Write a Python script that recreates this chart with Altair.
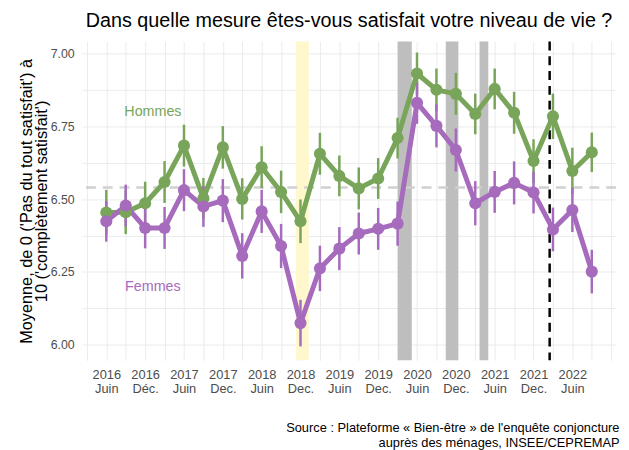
import altair as alt
import pandas as pd

# ---------------- data ----------------
# quarterly points, index 0 = June 2016 ... 25 = Sept 2022
hommes = [6.454, 6.455, 6.486, 6.559, 6.684, 6.503, 6.678, 6.501, 6.610, 6.525,
          6.424, 6.656, 6.580, 6.537, 6.571, 6.710, 6.932, 6.876, 6.862, 6.793,
          6.879, 6.797, 6.631, 6.785, 6.597, 6.661]
femmes = [6.424, 6.478, 6.401, 6.401, 6.531, 6.475, 6.495, 6.305, 6.458, 6.339,
          6.074, 6.262, 6.330, 6.382, 6.398, 6.416, 6.831, 6.752, 6.669, 6.486,
          6.525, 6.556, 6.523, 6.396, 6.463, 6.251]
err_h = [0.078, 0.075, 0.074, 0.072, 0.072, 0.070, 0.073, 0.071, 0.072, 0.073,
         0.075, 0.072, 0.070, 0.072, 0.070, 0.070, 0.072, 0.073, 0.072, 0.070,
         0.070, 0.072, 0.075, 0.078, 0.080, 0.068]
err_f = [0.070, 0.072, 0.070, 0.072, 0.072, 0.070, 0.074, 0.078, 0.074, 0.076,
         0.080, 0.078, 0.074, 0.072, 0.072, 0.076, 0.072, 0.074, 0.074, 0.076,
         0.072, 0.074, 0.072, 0.075, 0.076, 0.075]

tick_pos = [0, 2, 4, 6, 8, 10, 12, 14, 16, 18, 20, 22, 24]
tick_years = ["2016", "2016", "2017", "2017", "2018", "2018", "2019", "2019",
              "2020", "2020", "2021", "2021", "2022"]
tick_months = ["Juin", "Déc.", "Juin", "Dec.", "Juin", "Dec.", "Juin", "Dec.",
               "Juin", "Dec.", "Juin", "Dec.", "Juin"]

# events (in quarter-index units)
band_start = [9.76, 15.0, 17.48, 19.22]
band_end = [10.43, 15.73, 18.13, 19.67]
band_kind = ["Gilets jaunes", "Confinement 1", "Confinement 2", "Confinement 3"]
ukraine_x = [22.83]
moyenne = [6.54]

label_names = ["Hommes", "Femmes"]
label_x = [2.4, 2.4]
label_y = [6.80, 6.198]

GREEN = "#78a55a"
PURPLE = "#a66bbd"

# ---------------- frames ----------------
rows = []
for i, (v, e) in enumerate(zip(hommes, err_h)):
    rows.append({"t": i, "sexe": "Hommes", "v": v, "lo": v - e, "hi": v + e})
for i, (v, e) in enumerate(zip(femmes, err_f)):
    rows.append({"t": i, "sexe": "Femmes", "v": v, "lo": v - e, "hi": v + e})
df = pd.DataFrame(rows)

bands = pd.DataFrame({"x0": band_start, "x1": band_end, "kind": band_kind})
lab_df = pd.DataFrame({"name": label_names, "x": label_x, "y": label_y})


def ternary(labels):
    expr = ""
    for p, s in zip(tick_pos, labels):
        expr += "datum.value == %d ? '%s' : " % (p, s)
    return expr + "''"


year_expr = ternary(tick_years)
month_expr = ternary(tick_months)
y_label_expr = ("abs(datum.value * 4 - round(datum.value * 4)) < 0.001 ? "
                "format(datum.value, '.2f') : ''")

X_DOMAIN = [-1.25, 26.25]
Y_DOMAIN = [5.946, 7.042]

xscale = alt.Scale(domain=X_DOMAIN, nice=False, zero=False)
yscale = alt.Scale(domain=Y_DOMAIN, nice=False, zero=False)
color = alt.Color("sexe:N", scale=alt.Scale(domain=["Hommes", "Femmes"],
                                            range=[GREEN, PURPLE]), legend=None)

year_axis = alt.Axis(
    orient="bottom", values=list(range(-1, 27)), labelExpr=year_expr,
    ticks=False, tickSize=0, domain=False, labelPadding=8, labelFontSize=13,
    labelColor="#4d4d4d", labelFont="Liberation Sans", labelAngle=0,
    labelOverlap=False, labelFlush=False, labelBound=False,
    grid=True, gridColor="#ebebeb", gridWidth=1, title=None,
)
month_axis = alt.Axis(
    orient="bottom", values=tick_pos, labelExpr=month_expr,
    ticks=False, tickSize=0, domain=False, labelPadding=23, labelFontSize=13,
    labelColor="#4d4d4d", labelFont="Liberation Sans", labelAngle=0,
    labelOverlap=False, labelFlush=False, labelBound=False, grid=False,
    title=["Source : Plateforme « Bien-être » de l'enquête conjoncture",
           "auprès des ménages, INSEE/CEPREMAP"],
    titleAnchor="end", titleAlign="right", titleFontSize=13,
    titleFontWeight="normal", titleFont="Liberation Sans", titleColor="#000000",
    titlePadding=26, titleLineHeight=15, titleX=544, titleBaseline="top",
)
y_axis = alt.Axis(
    values=[6.0 + 0.125 * k for k in range(9)], labelExpr=y_label_expr,
    ticks=False, tickSize=0, domain=False, labelPadding=8, labelFontSize=12.5,
    labelColor="#4d4d4d", labelFont="Liberation Sans", labelOverlap=False,
    grid=True, gridColor="#ebebeb", gridWidth=1,
    title=["Moyenne, de 0 ('Pas du tout satisfait') à", "10 ('complètement satisfait')"],
    titleFontSize=16.5, titleFontWeight="normal", titleFont="Liberation Sans",
    titleColor="#000000", titlePadding=1, titleLineHeight=15,
)

base = alt.Chart(df)

band_layer = alt.Chart(bands).mark_rect(opacity=1).encode(
    x=alt.X("x0:Q", scale=xscale, axis=year_axis),
    x2="x1:Q",
    color=alt.Color("kind:N", scale=alt.Scale(
        domain=band_kind, range=["#fff8cc", "#bebebe", "#bebebe", "#bebebe"]),
        legend=None),
)

mean_layer = alt.Chart(pd.DataFrame({"y": moyenne})).mark_rule(
    color="#d0d0d0", strokeWidth=2.5, strokeDash=[10, 7]
).encode(y=alt.Y("y:Q", scale=yscale, axis=y_axis))

ukr_layer = alt.Chart(pd.DataFrame({"x": ukraine_x})).mark_rule(
    color="#000000", strokeWidth=2.5, strokeDash=[9, 6]
).encode(x=alt.X("x:Q", scale=xscale, axis=month_axis))

err_layer = base.mark_rule(strokeWidth=2.5).encode(
    x=alt.X("t:Q", scale=xscale, axis=None),
    y=alt.Y("lo:Q", scale=yscale),
    y2="hi:Q",
    color=color,
)

line_layer = base.mark_line(strokeWidth=5, strokeJoin="round").encode(
    x=alt.X("t:Q", scale=xscale, axis=None),
    y=alt.Y("v:Q", scale=yscale),
    color=color,
    detail="sexe:N",
)

point_layer = base.mark_circle(size=150, opacity=1).encode(
    x=alt.X("t:Q", scale=xscale, axis=None),
    y=alt.Y("v:Q", scale=yscale),
    color=color,
)

text_layer = alt.Chart(lab_df).mark_text(
    fontSize=14.5, font="Liberation Sans", align="center", baseline="middle"
).encode(
    x=alt.X("x:Q", scale=xscale, axis=None),
    y=alt.Y("y:Q", scale=yscale),
    text="name:N",
    color=alt.Color("name:N", scale=alt.Scale(domain=["Hommes", "Femmes"],
                                              range=[GREEN, PURPLE]), legend=None),
)

chart = alt.layer(
    band_layer, mean_layer, ukr_layer, err_layer, line_layer, point_layer, text_layer
).resolve_scale(color="independent").resolve_axis(x="independent").properties(
    width=541, height=323,
    title=alt.TitleParams(
        "Dans quelle mesure êtes-vous satisfait votre niveau de vie ?",
        fontSize=20, font="Liberation Sans", fontWeight="normal", color="#000000",
        anchor="middle", offset=9,
    ),
    autosize=alt.AutoSizeParams(type="none"),
    padding={"left": 75, "top": 31, "right": 5, "bottom": 96},
).configure_view(stroke=None)

chart.save("out.html", embed_options={"renderer": "svg", "actions": False})
